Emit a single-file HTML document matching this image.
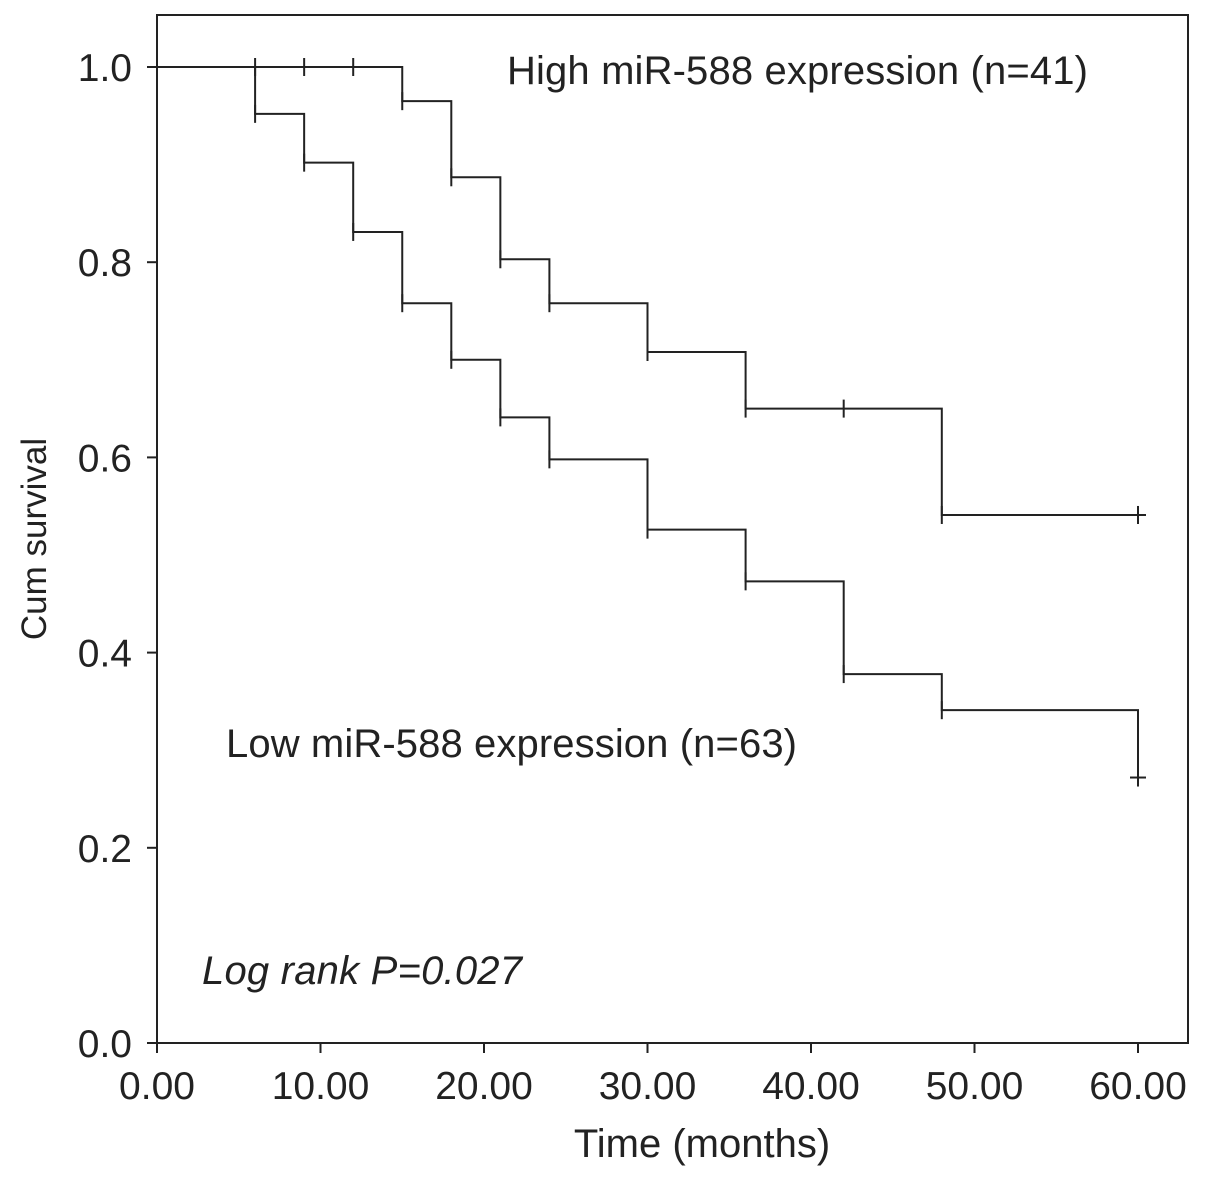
<!DOCTYPE html>
<html><head><meta charset="utf-8"><style>
body{margin:0;background:#fff;}
svg{display:block;font-family:"Liberation Sans",sans-serif;}
</style></head><body>
<svg id="chart" width="1205" height="1182">
<rect x="157" y="15" width="1031" height="1028" fill="none" stroke="#222" stroke-width="2"/>
<g id="axes"></g>
<g id="series"></g>
<text x="507" y="84" font-size="40" fill="#222" textLength="581">High miR-588 expression (n=41)</text>
<text x="226" y="757" font-size="40" fill="#222" textLength="571">Low miR-588 expression (n=63)</text>
<text x="202" y="984" font-size="40" font-style="italic" fill="#222" textLength="320">Log rank P=0.027</text>
<text x="702" y="1157" font-size="40" text-anchor="middle" fill="#222">Time (months)</text>
<text transform="translate(46,539) rotate(-90)" font-size="35" text-anchor="middle" fill="#222">Cum survival</text>
</svg>
<script>
const xTicks=[0,10,20,30,40,50,60];
const xTickLabels=["0.00","10.00","20.00","30.00","40.00","50.00","60.00"];
const yTicks=[0,0.2,0.4,0.6,0.8,1.0];
const yTickLabels=["0.0","0.2","0.4","0.6","0.8","1.0"];
const highTimes=[0,15,18,21,24,30,36,48,60];
const highSurv=[1.0,0.965,0.887,0.803,0.758,0.708,0.650,0.541,0.541];
const highCensor=[6,9,12,42,60];
const lowTimes=[0,6,9,12,15,18,21,24,30,36,42,48,60];
const lowSurv=[1.0,0.952,0.902,0.831,0.758,0.700,0.641,0.598,0.526,0.473,0.378,0.341,0.272];
const NS="http://www.w3.org/2000/svg";
const X=t=>157+t*16.35;
const Y=v=>1043-v*976;
function mk(tag,attrs,parent){const e=document.createElementNS(NS,tag);for(const k in attrs)e.setAttribute(k,attrs[k]);parent.appendChild(e);return e;}
const ax=document.getElementById('axes'),sr=document.getElementById('series');
xTicks.forEach((t,i)=>{
 const l=mk('line',{x1:X(t),x2:X(t),y1:1043,y2:1053,stroke:'#222','stroke-width':2},ax);
 
 
 const tx=mk('text',{x:X(t),y:1099,'font-size':39,'text-anchor':'middle',fill:'#222'},ax);
 tx.textContent=xTickLabels[i];
 
 
});
yTicks.forEach((v,i)=>{
 const l=mk('line',{x1:147,x2:157,y1:Y(v),y2:Y(v),stroke:'#222','stroke-width':2},ax);
 
 
 const tx=mk('text',{x:132,y:Y(v)+14,'font-size':39,'text-anchor':'end',fill:'#222'},ax);
 tx.textContent=yTickLabels[i];
 
 
});
function stepPath(times,surv){
 let d='M'+X(times[0])+','+Y(surv[0]);
 for(let i=1;i<times.length;i++){d+=' H'+X(times[i])+' V'+Y(surv[i]);}
 return d;
}
function survAt(times,surv,t){let s=surv[0];for(let i=0;i<times.length;i++){if(times[i]<=t)s=surv[i];}return s;}
const hp=mk('path',{d:stepPath(highTimes,highSurv)+' H'+(X(60)+8),fill:'none',stroke:'#222','stroke-width':2},sr);


const lp=mk('path',{d:stepPath(lowTimes,lowSurv),fill:'none',stroke:'#222','stroke-width':2},sr);


function censor(t,s,name){
 const l=mk('line',{x1:X(t),x2:X(t),y1:Y(s)-9,y2:Y(s)+9,stroke:'#222','stroke-width':2},sr);
 
 
}
highTimes.slice(1).forEach(t=>censor(t,survAt(highTimes,highSurv,t),'high-censor-mark'));
highCensor.forEach(t=>censor(t,survAt(highTimes,highSurv,t),'high-censor-mark'));
lowTimes.slice(1).forEach(t=>censor(t,survAt(lowTimes,lowSurv,t),'low-censor-mark'));
const le=mk('line',{x1:X(60)-8,x2:X(60)+8,y1:Y(lowSurv[lowSurv.length-1]),y2:Y(lowSurv[lowSurv.length-1]),stroke:'#222','stroke-width':2},sr);


</script>
</body></html>
